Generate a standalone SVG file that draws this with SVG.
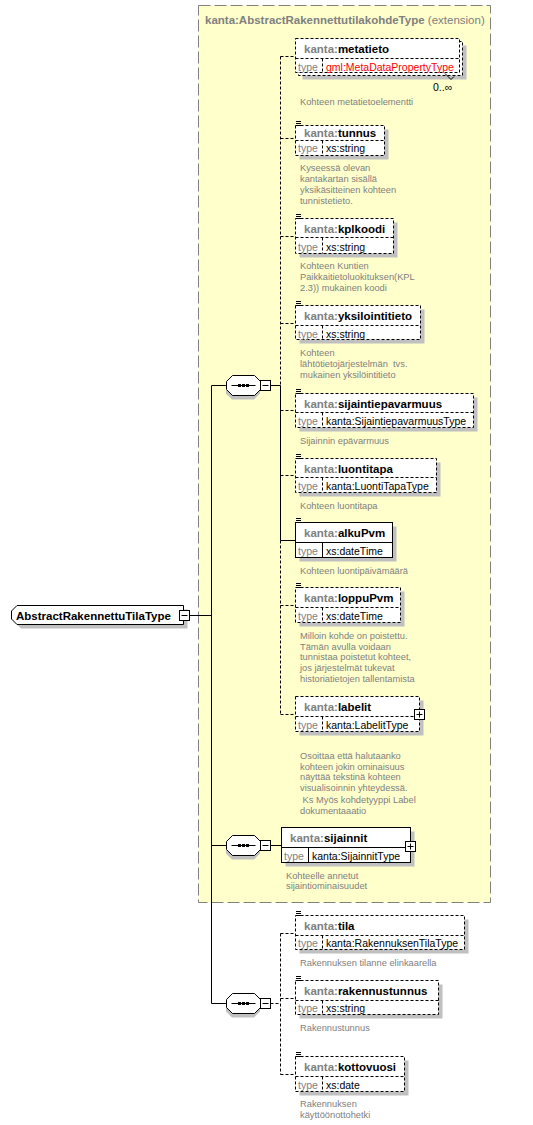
<svg xmlns="http://www.w3.org/2000/svg" width="533" height="1125" viewBox="0 0 533 1125">
<style>
text{font-family:"Liberation Sans",Arial,sans-serif}
.opt{fill:#fff;stroke:#000;stroke-width:1;stroke-dasharray:3,2}
.req{fill:#fff;stroke:#000;stroke-width:1}
.sh{fill:#c0c0c0}
.ln{stroke:#000;stroke-width:1;fill:none}
.dl{stroke:#000;stroke-width:1;fill:none;stroke-dasharray:3,2}
.hd{font-size:11.5px;font-weight:bold;fill:#000}
.ns{fill:#808080}
.ty{font-size:10.5px;fill:#000}
.tl{fill:#808080}
.ds{font-size:9.3px;fill:#808080}
.red{fill:#ff0000}
</style>
<defs>
<g id="icon"><path d="M1,0.5h5M1,2.5h5M1,4.5h5" stroke="#000" stroke-width="1"/></g>
<g id="minus"><rect x="0.5" y="0.5" width="10" height="10" fill="#fff" stroke="#000"/><path d="M2.5,5.5h6" stroke="#000"/></g>
<g id="plus"><rect x="0.5" y="0.5" width="10" height="10" fill="#fff" stroke="#000"/><path d="M2.5,5.5h6M5.5,2.5v6" stroke="#000"/></g>
<g id="seq">
<path d="M10,4.5h22l6,6v8l-6,6h-22l-6-6v-8z" transform="translate(-4,0)" fill="#c0c0c0"/>
<path d="M6.5,0.5h22l6,6v8l-6,6h-22l-6-6v-8z" fill="#fff" stroke="#000"/>
<path d="M5.5,10.5h24" stroke="#000"/>
<rect x="12" y="9" width="3" height="3" fill="#000"/><rect x="16" y="9" width="3" height="3" fill="#000"/><rect x="20" y="9" width="3" height="3" fill="#000"/>
</g>
</defs>

<g id="extension">
<rect x="198.5" y="5.5" width="292" height="897" fill="#ffffcc" stroke="#808080" stroke-width="1" stroke-dasharray="12,4"/>
<text x="205" y="23.5" font-size="11.5px" fill="#808080"><tspan font-weight="bold">kanta:AbstractRakennettutilakohdeType</tspan> (extension)</text>
</g>

<g id="connectors">
<path class="ln" d="M189.5,615.5H211.5M211.5,385.5V1003.5M211.5,385.5H226M211.5,845.5H226M211.5,1003.5H226"/>
<path class="ln" d="M270.5,385.5H280.5M280.5,385.5V540.5M280.5,540.5H295.5"/>
<path class="dl" d="M280.5,56.5V385.5M280.5,540.5V714.5"/>
<path class="dl" d="M280.5,56.5H295.5M280.5,138.5H295.5M280.5,236.5H295.5M280.5,323.5H295.5M280.5,410.5H295.5M280.5,475.5H295.5M280.5,605.5H295.5M280.5,714.5H295.5"/>
<path class="ln" d="M270.5,845.5H281.5"/>
<path class="dl" d="M270.5,1003.5H280.5M280.5,933.5V1074.5M280.5,933.5H295.5M280.5,998.5H295.5M280.5,1074.5H295.5"/>
</g>

<g id="root">
<path class="sh" d="M21,609.5H187.5V628.5H21L15.5,623V615z"/>
<path class="req" d="M17,605.5H183.5V624.5H17L11.5,619V611z"/>
<text class="hd" x="16" y="619.5">AbstractRakennettuTilaType</text>
<use href="#minus" x="179" y="610"/>
</g>

<g id="seq1"><use href="#seq" x="226" y="375"/><use href="#minus" x="260" y="380"/></g>
<g id="seq2"><use href="#seq" x="226" y="835"/><use href="#minus" x="260" y="840"/></g>
<g id="seq3"><use href="#seq" x="226" y="993"/><use href="#minus" x="260" y="998"/></g>

<g id="metatieto">
<rect class="sh" x="302.5" y="45.5" width="164" height="34"/>
<rect class="opt" x="298.5" y="41.5" width="164" height="34"/>
<rect class="opt" x="295.5" y="38.5" width="164" height="34"/>
<path class="dl" d="M295.5,58.5H459.5M322.5,58.5V72.5"/>
<text class="hd" x="304" y="52.5"><tspan class="ns">kanta:</tspan>metatieto</text>
<text class="ty" x="298" y="70.5"><tspan class="tl">type</tspan></text>
<text class="ty red" x="326" y="70.5">gml:MetaDataPropertyType</text>
<path class="ln" d="M445,73.5l6,6l3,-3"/>
<text class="ty" x="433" y="91">0..∞</text>
<text class="ds" x="300" y="105">Kohteen metatietoelementti</text>
</g>

<g id="tunnus">
<rect class="sh" x="299.5" y="129.5" width="89" height="30"/>
<rect class="opt" x="295.5" y="125.5" width="89" height="30"/>
<path class="dl" d="M295.5,140.5H384.5M322.5,140.5V155.5"/>
<use href="#icon" x="295" y="121"/>
<text class="hd" x="304" y="137"><tspan class="ns">kanta:</tspan>tunnus</text>
<text class="ty" x="298" y="152"><tspan class="tl">type</tspan></text>
<text class="ty" x="326" y="152">xs:string</text>
<text class="ds" x="300"><tspan x="300" y="171">Kyseessä olevan</tspan><tspan x="300" y="182">kantakartan sisällä</tspan><tspan x="300" y="193">yksikäsitteinen kohteen</tspan><tspan x="300" y="204">tunnistetieto.</tspan></text>
</g>

<g id="kplkoodi">
<rect class="sh" x="299.5" y="222.5" width="98" height="35"/>
<rect class="opt" x="295.5" y="218.5" width="98" height="35"/>
<path class="dl" d="M295.5,237.5H393.5M322.5,237.5V253.5"/>
<use href="#icon" x="295" y="214"/>
<text class="hd" x="304" y="232.5"><tspan class="ns">kanta:</tspan>kplkoodi</text>
<text class="ty" x="298" y="250.5"><tspan class="tl">type</tspan></text>
<text class="ty" x="326" y="250.5">xs:string</text>
<text class="ds"><tspan x="300" y="269">Kohteen Kuntien</tspan><tspan x="300" y="280">Paikkaitietoluokituksen(KPL</tspan><tspan x="300" y="291">2.3)) mukainen koodi</tspan></text>
</g>

<g id="yksilointitieto">
<rect class="sh" x="299.5" y="309.5" width="125" height="34"/>
<rect class="opt" x="295.5" y="305.5" width="125" height="34"/>
<path class="dl" d="M295.5,325.5H420.5M322.5,325.5V339.5"/>
<use href="#icon" x="295" y="301"/>
<text class="hd" x="304" y="320"><tspan class="ns">kanta:</tspan>yksilointitieto</text>
<text class="ty" x="298" y="337.5"><tspan class="tl">type</tspan></text>
<text class="ty" x="326" y="337.5">xs:string</text>
<text class="ds"><tspan x="300" y="356">Kohteen</tspan><tspan x="300" y="367" xml:space="preserve">lähtötietojärjestelmän  tvs.</tspan><tspan x="300" y="378">mukainen yksilöintitieto</tspan></text>
</g>

<g id="sijaintiepavarmuus">
<rect class="sh" x="299.5" y="397.5" width="178" height="34"/>
<rect class="opt" x="295.5" y="393.5" width="178" height="34"/>
<path class="dl" d="M295.5,412.5H473.5M322.5,412.5V427.5"/>
<use href="#icon" x="295" y="389"/>
<text class="hd" x="304" y="407.5"><tspan class="ns">kanta:</tspan>sijaintiepavarmuus</text>
<text class="ty" x="298" y="424.5"><tspan class="tl">type</tspan></text>
<text class="ty" x="326" y="424.5">kanta:SijaintiepavarmuusType</text>
<text class="ds" x="300" y="443.5">Sijainnin epävarmuus</text>
</g>

<g id="luontitapa">
<rect class="sh" x="299.5" y="462.5" width="141" height="34"/>
<rect class="opt" x="295.5" y="458.5" width="141" height="34"/>
<path class="dl" d="M295.5,477.5H436.5M322.5,477.5V492.5"/>
<use href="#icon" x="295" y="454"/>
<text class="hd" x="304" y="472.5"><tspan class="ns">kanta:</tspan>luontitapa</text>
<text class="ty" x="298" y="489.5"><tspan class="tl">type</tspan></text>
<text class="ty" x="326" y="489.5">kanta:LuontiTapaType</text>
<text class="ds" x="300" y="508.5">Kohteen luontitapa</text>
</g>

<g id="alkuPvm">
<rect class="sh" x="299.5" y="526.5" width="97" height="35"/>
<rect class="req" x="295.5" y="522.5" width="97" height="35"/>
<path class="ln" d="M295.5,542.5H392.5M322.5,542.5V557.5"/>
<use href="#icon" x="295" y="518"/>
<text class="hd" x="304" y="537"><tspan class="ns">kanta:</tspan>alkuPvm</text>
<text class="ty" x="298" y="554.5"><tspan class="tl">type</tspan></text>
<text class="ty" x="326" y="554.5">xs:dateTime</text>
<text class="ds" x="300" y="573.5">Kohteen luontipäivämäärä</text>
</g>

<g id="loppuPvm">
<rect class="sh" x="299.5" y="591.5" width="105" height="35"/>
<rect class="opt" x="295.5" y="587.5" width="105" height="35"/>
<path class="dl" d="M295.5,607.5H400.5M322.5,607.5V622.5"/>
<use href="#icon" x="295" y="583"/>
<text class="hd" x="304" y="602"><tspan class="ns">kanta:</tspan>loppuPvm</text>
<text class="ty" x="298" y="619.5"><tspan class="tl">type</tspan></text>
<text class="ty" x="326" y="619.5">xs:dateTime</text>
<text class="ds"><tspan x="300" y="638.5">Milloin kohde on poistettu.</tspan><tspan x="300" y="649.5">Tämän avulla voidaan</tspan><tspan x="300" y="660">tunnistaa poistetut kohteet,</tspan><tspan x="300" y="671">jos järjestelmät tukevat</tspan><tspan x="300" y="682">historiatietojen tallentamista</tspan></text>
</g>

<g id="labelit">
<rect class="sh" x="299.5" y="700.5" width="124" height="35"/>
<rect class="opt" x="295.5" y="696.5" width="124" height="35"/>
<path class="dl" d="M295.5,716.5H419.5M322.5,716.5V731.5"/>
<text class="hd" x="304" y="711"><tspan class="ns">kanta:</tspan>labelit</text>
<text class="ty" x="298" y="728.5"><tspan class="tl">type</tspan></text>
<text class="ty" x="326" y="728.5">kanta:LabelitType</text>
<use href="#plus" x="414" y="709"/>
<text class="ds"><tspan x="300" y="758.5">Osoittaa että halutaanko</tspan><tspan x="300" y="769.5">kohteen jokin ominaisuus</tspan><tspan x="300" y="780">näyttää tekstinä kohteen</tspan><tspan x="300" y="791">visualisoinnin yhteydessä.</tspan><tspan x="300" y="802.5" xml:space="preserve"> Ks Myös kohdetyyppi Label</tspan><tspan x="300" y="813.5">dokumentaaatio</tspan></text>
</g>

<g id="sijainnit">
<rect class="sh" x="285.5" y="831.5" width="129" height="35"/>
<rect class="req" x="281.5" y="827.5" width="129" height="35"/>
<path class="ln" d="M281.5,847.5H410.5M308.5,847.5V862.5"/>
<text class="hd" x="290" y="841.5"><tspan class="ns">kanta:</tspan>sijainnit</text>
<text class="ty" x="284" y="859.5"><tspan class="tl">type</tspan></text>
<text class="ty" x="312" y="859.5">kanta:SijainnitType</text>
<use href="#plus" x="405" y="841"/>
<text class="ds"><tspan x="286" y="878.5">Kohteelle annetut</tspan><tspan x="286" y="889">sijaintiominaisuudet</tspan></text>
</g>

<g id="tila">
<rect class="sh" x="299.5" y="919.5" width="169" height="34"/>
<rect class="opt" x="295.5" y="915.5" width="169" height="34"/>
<path class="dl" d="M295.5,935.5H464.5M322.5,935.5V949.5"/>
<use href="#icon" x="295" y="911"/>
<text class="hd" x="304" y="929.5"><tspan class="ns">kanta:</tspan>tila</text>
<text class="ty" x="298" y="947"><tspan class="tl">type</tspan></text>
<text class="ty" x="326" y="947">kanta:RakennuksenTilaType</text>
<text class="ds" x="300" y="966">Rakennuksen tilanne elinkaarella</text>
</g>

<g id="rakennustunnus">
<rect class="sh" x="299.5" y="984.5" width="143" height="34"/>
<rect class="opt" x="295.5" y="980.5" width="143" height="34"/>
<path class="dl" d="M295.5,1000.5H438.5M322.5,1000.5V1014.5"/>
<use href="#icon" x="295" y="976"/>
<text class="hd" x="304" y="995"><tspan class="ns">kanta:</tspan>rakennustunnus</text>
<text class="ty" x="298" y="1012"><tspan class="tl">type</tspan></text>
<text class="ty" x="326" y="1012">xs:string</text>
<text class="ds" x="300" y="1031">Rakennustunnus</text>
</g>

<g id="kottovuosi">
<rect class="sh" x="299.5" y="1060.5" width="109" height="35"/>
<rect class="opt" x="295.5" y="1056.5" width="109" height="35"/>
<path class="dl" d="M295.5,1076.5H404.5M322.5,1076.5V1091.5"/>
<use href="#icon" x="295" y="1052"/>
<text class="hd" x="304" y="1070.5"><tspan class="ns">kanta:</tspan>kottovuosi</text>
<text class="ty" x="298" y="1088.5"><tspan class="tl">type</tspan></text>
<text class="ty" x="326" y="1088.5">xs:date</text>
<text class="ds"><tspan x="300" y="1107">Rakennuksen</tspan><tspan x="300" y="1118">käyttöönottohetki</tspan></text>
</g>
</svg>
